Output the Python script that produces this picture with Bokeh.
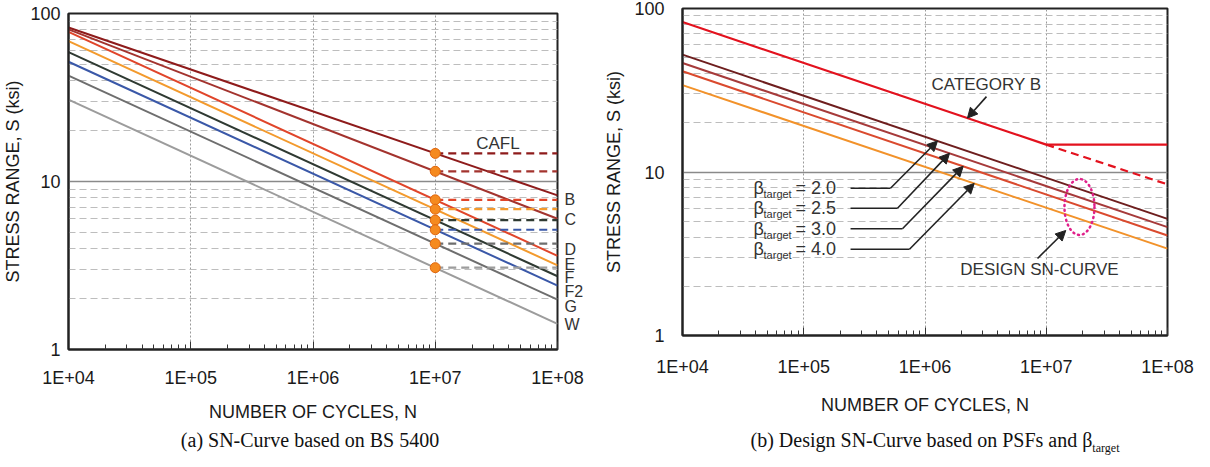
import numpy as np
from bokeh.plotting import figure
from bokeh.models import Range1d, FixedTicker, Label, Arrow, NormalHead, LogAxis, AllLabels, Div
from bokeh.layouts import row, column
from bokeh.embed import file_html
from bokeh.resources import INLINE

FONT = "Liberation Sans"
SERIF = "Liberation Serif"

# ---------------- data ----------------
X_TICKS = [1e4, 1e5, 1e6, 1e7, 1e8]
X_TICK_LABELS = ["1E+04", "1E+05", "1E+06", "1E+07", "1E+08"]
Y_TICKS = [1, 10, 100]
Y_TICK_LABELS = ["1", "10", "100"]

N_START = 1e4
N_END = 1e8

# (a) BS 5400 classes
CLASSES = ["B", "C", "D", "E", "F", "F2", "G", "W"]
S_AT_START = [82.6, 80.5, 77.8, 68.4, 58.9, 51.6, 42.7, 30.7]
S_AT_END = [8.27, 6.0, 3.61, 3.17, 2.73, 2.40, 1.98, 1.42]
N_CAFL = 1e7
CAFL = [14.7, 11.5, 7.78, 6.84, 5.89, 5.16, 4.27, 3.07]
CLASS_LABEL_Y = [7.81, 5.97, 3.95, 3.22, 2.68, 2.21, 1.80, 1.41]
CLASS_COLORS = ["#8E1B1B", "#A3332E", "#E0452A", "#F39A2D", "#2F3A32", "#3A58A8", "#6E6E6E", "#9C9C9C"]

# (b) design curves
BETAS = ["2.0", "2.5", "3.0", "4.0"]
DESIGN_START = [52.2, 46.4, 41.3, 34.0]
DESIGN_END = [5.17, 4.60, 4.09, 3.40]
BETA_COLORS = ["#6E1E1E", "#A63A3A", "#DA4A2E", "#F2922A"]
CATB_N = [1e4, 1e7, 1e8]
CATB_S = [82.6, 14.7, 14.7]
CATB_EXT_N = [1e7, 1e8]
CATB_EXT_S = [14.7, 8.4]
CATB_COLOR = "#E3121E"

# annotation anchors (data coordinates)
BETA_LABEL_Y = [7.96, 6.0, 4.5, 3.37]
BETA_LABEL_X = 10 ** 4.586
BETA_LEADER_X0 = 10 ** 5.386
BETA_ELBOW_LOGN = [5.715, 5.773, 5.814, 5.872]
BETA_TIP_LOGN = [6.103, 6.202, 6.315, 6.406]

CAPTION_A = "(a) SN-Curve based on BS 5400"
CAPTION_B = "(b) Design SN-Curve based on PSFs and \u03b2<sub style='font-size:12px'>target</sub>"


def on_line(n, n0, s0, n1, s1):
    t = (np.log10(n) - np.log10(n0)) / (np.log10(n1) - np.log10(n0))
    return 10 ** (np.log10(s0) + t * (np.log10(s1) - np.log10(s0)))


def make_fig(width, height, bl, br, bt, bb):
    p = figure(width=width, height=height, x_axis_type="log", y_axis_type="log",
               x_range=Range1d(1e4, 1e8), y_range=Range1d(1, 100),
               output_backend="svg", toolbar_location=None,
               min_border_left=bl, min_border_right=br, min_border_top=bt, min_border_bottom=bb)
    p.frame_align = False
    xt = FixedTicker(ticks=X_TICKS, minor_ticks=[k * 10 ** e for e in range(4, 8) for k in range(2, 10)])
    yt = FixedTicker(ticks=Y_TICKS, minor_ticks=[k * 10 ** e for e in range(0, 2) for k in range(2, 10)])
    p.xaxis.ticker = xt
    p.yaxis.ticker = yt
    p.xgrid.ticker = xt
    p.ygrid.ticker = yt
    p.xaxis.major_label_overrides = dict(zip(X_TICKS, X_TICK_LABELS))
    p.yaxis.major_label_overrides = dict(zip(Y_TICKS, Y_TICK_LABELS))
    for ax in (p.xaxis[0], p.yaxis[0]):
        ax.major_label_text_font = FONT
        ax.major_label_text_font_size = "18px"
        ax.major_label_text_color = "#1a1a1a"
        ax.axis_label_text_font = FONT
        ax.axis_label_text_font_size = "18px"
        ax.axis_label_text_font_style = "normal"
        ax.axis_label_text_color = "#1a1a1a"
        ax.axis_line_color = "#222222"
        ax.axis_line_width = 2
        ax.major_tick_out = 0
        ax.minor_tick_out = 0
    p.xaxis.major_tick_in = 8
    p.xaxis.minor_tick_in = 5
    p.xaxis.major_tick_line_color = "#333333"
    p.xaxis.minor_tick_line_color = "#333333"
    p.yaxis.major_tick_in = 0
    p.yaxis.minor_tick_in = 0
    p.xaxis.axis_label = "NUMBER OF CYCLES, N"
    p.yaxis.axis_label = "STRESS RANGE, S (ksi)"
    p.xgrid.grid_line_color = "#9a9a9a"
    p.xgrid.grid_line_dash = "2 2"
    p.xgrid.grid_line_width = 1
    p.ygrid.grid_line_color = "#8a8a8a"
    p.ygrid.grid_line_width = 1.5
    p.ygrid.minor_grid_line_color = "#bdbdbd"
    p.ygrid.minor_grid_line_dash = "7 4"
    p.ygrid.minor_grid_line_width = 1
    p.outline_line_color = "#222222"
    p.outline_line_width = 2
    p.background_fill_color = "white"
    p.border_fill_color = "white"
    return p


# ---------------- (a) ----------------
p1 = make_fig(592, 431, 64, 35, 13, 82)
p1.yaxis.major_label_standoff = 8
p1.yaxis.axis_label_standoff = 4
p1.xaxis.major_label_standoff = 18
p1.xaxis.axis_label_standoff = 11

for s0, s1, c in zip(S_AT_START, S_AT_END, CLASS_COLORS):
    p1.line([N_START, N_END], [s0, s1], line_color=c, line_width=2)
for s, c in zip(CAFL, CLASS_COLORS):
    p1.line([N_CAFL, N_END], [s, s], line_color=c, line_width=2.2, line_dash="8 5")
p1.scatter([N_CAFL] * len(CAFL), CAFL, size=10, fill_color="#F58A1F", line_color="#E0660E", line_width=1)

p1.add_layout(Label(x=10 ** 7.513, y=16.9, text="CAFL", text_align="center", text_baseline="middle",
                    text_font=FONT, text_font_size="17px", text_color="#333333"))

# class names at the right edge, via a label-only right axis
class_axis = LogAxis(ticker=FixedTicker(ticks=CLASS_LABEL_Y, minor_ticks=[]),
                     major_label_overrides=dict(zip(CLASS_LABEL_Y, CLASSES)),
                     major_label_policy=AllLabels(),
                     axis_line_color=None, major_tick_in=0, major_tick_out=0,
                     minor_tick_in=0, minor_tick_out=0, major_label_standoff=7,
                     major_label_text_font=FONT, major_label_text_font_size="16px",
                     major_label_text_color="#333333")
p1.add_layout(class_axis, "right")

# ---------------- (b) ----------------
p2 = make_fig(602, 431, 90, 27, 8, 96)
p2.yaxis.major_label_standoff = 18
p2.yaxis.axis_label_standoff = 7
p2.xaxis.major_label_standoff = 21
p2.xaxis.axis_label_standoff = 15

p2.line(CATB_N, CATB_S, line_color=CATB_COLOR, line_width=2.2)
p2.line(CATB_EXT_N, CATB_EXT_S, line_color=CATB_COLOR, line_width=2.2, line_dash="8 5")
for s0, s1, c in zip(DESIGN_START, DESIGN_END, BETA_COLORS):
    p2.line([N_START, N_END], [s0, s1], line_color=c, line_width=2)

INK = "#222222"
for b, y, el, tip, s0, s1 in zip(BETAS, BETA_LABEL_Y, BETA_ELBOW_LOGN, BETA_TIP_LOGN, DESIGN_START, DESIGN_END):
    p2.add_layout(Label(x=BETA_LABEL_X, y=y, text="\u03b2", text_align="left", text_baseline="middle",
                        text_font=FONT, text_font_size="18px", text_color="#333333"))
    p2.add_layout(Label(x=BETA_LABEL_X, y=y, x_offset=10, text="target", text_align="left", text_baseline="top",
                        text_font=FONT, text_font_size="11px", text_color="#333333"))
    p2.add_layout(Label(x=BETA_LABEL_X, y=y, x_offset=42, text="= " + b, text_align="left",
                        text_baseline="middle", text_font=FONT, text_font_size="18px", text_color="#333333"))
    xe = 10 ** el
    xt_ = 10 ** tip
    p2.line([BETA_LEADER_X0, xe], [y, y], line_color=INK, line_width=1.6)
    p2.add_layout(Arrow(end=NormalHead(size=10, fill_color=INK, line_color=INK),
                        x_start=xe, y_start=y, x_end=xt_, y_end=on_line(xt_, N_START, s0, N_END, s1),
                        line_color=INK, line_width=1.6))

p2.add_layout(Label(x=10 ** 6.507, y=34.2, text="CATEGORY B", text_align="center", text_baseline="middle",
                    text_font=FONT, text_font_size="17px", text_color="#333333"))
tipB = 10 ** 6.35
p2.add_layout(Arrow(end=NormalHead(size=10, fill_color=INK, line_color=INK),
                    x_start=10 ** 6.507, y_start=28.9, x_end=tipB,
                    y_end=on_line(tipB, CATB_N[0], CATB_S[0], CATB_N[1], CATB_S[1]),
                    line_color=INK, line_width=1.6))

p2.ellipse(x=[10 ** 7.274], y=[6.11], width=30, height=56, width_units="screen", height_units="screen",
           fill_color=None, line_color="#E0208A", line_width=2.5, line_dash="1 4", line_cap="round")
p2.add_layout(Label(x=10 ** 6.944, y=2.52, text="DESIGN SN-CURVE", text_align="center", text_baseline="middle",
                    text_font=FONT, text_font_size="17px", text_color="#333333"))
p2.add_layout(Arrow(end=NormalHead(size=10, fill_color=INK, line_color=INK),
                    x_start=10 ** 6.928, y_start=2.96, x_end=10 ** 7.161, y_end=4.39,
                    line_color=INK, line_width=1.6))

# ---------------- captions ----------------
CAP_STYLE = ("box-sizing:border-box;text-align:center;font-family:'Liberation Serif';"
             "font-size:20px;line-height:18px;color:#111111;white-space:nowrap;")
d1 = Div(text=f"<div style=\"width:592px;padding-left:28px;{CAP_STYLE}\">{CAPTION_A}</div>",
         width=592, height=18, margin=(0, 0, 0, 0))
d2 = Div(text=f"<div style=\"width:602px;padding-left:84px;{CAP_STYLE}\">{CAPTION_B}</div>",
         width=602, height=18, margin=(0, 0, 0, 0))

layout = row(column(p1, d1), column(p2, d2))
open("out.html", "w").write(file_html(layout, INLINE))
